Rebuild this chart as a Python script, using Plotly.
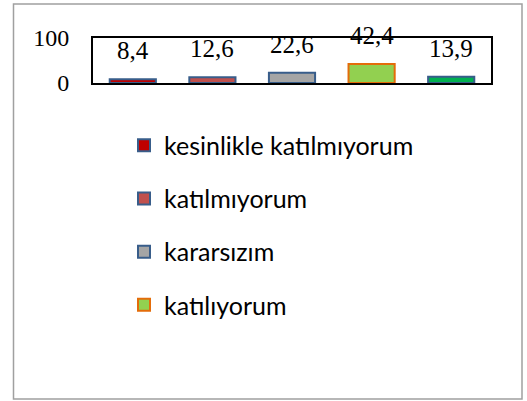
import plotly.graph_objects as go

categories = ["kesinlikle katılmıyorum", "katılmıyorum", "kararsızım", "katılıyorum", "tamamen katılıyorum"]
values = [8.4, 12.6, 22.6, 42.4, 13.9]
value_labels = ["8,4", "12,6", "22,6", "42,4", "13,9"]
fill_colors = ["#C00000", "#C0504D", "#A5A5A5", "#92D050", "#00B050"]
line_colors = ["#385D8A", "#385D8A", "#385D8A", "#E46C0A", "#385D8A"]
show_in_legend = [True, True, True, True, False]
y_ticks = [0, 100]

W, H = 527, 401
ML, MR, MT, MB = 93, 36, 38, 318
pw = W - ML - MR
ph = H - MT - MB

fig = go.Figure()
for i, (c, v) in enumerate(zip(categories, values)):
    fig.add_trace(go.Bar(
        x=[c], y=[v], name=c, width=0.58,
        marker=dict(color=fill_colors[i], line=dict(color=line_colors[i], width=2)),
        legendgroup=f"g{i}", showlegend=show_in_legend[i],
    ))

for c, v, t in zip(categories, values, value_labels):
    fig.add_annotation(x=c, y=v, text=t, showarrow=False, yanchor="bottom",
                       yshift=13, font=dict(family="Liberation Serif", size=25, color="black"))

def px2paper_x(px):
    return (px - ML) / pw

def px2paper_y(py):
    return (H - MB - py) / ph

fig.add_shape(type="rect", xref="paper", yref="paper",
              x0=px2paper_x(13.5), x1=px2paper_x(522), y0=px2paper_y(399), y1=px2paper_y(4),
              line=dict(color="#A0A0A0", width=1.5), layer="below")

fig.update_layout(
    width=W, height=H,
    margin=dict(l=ML, r=MR, t=MT, b=MB, autoexpand=False),
    paper_bgcolor="white", plot_bgcolor="white",
    barmode="overlay",
    showlegend=True,
    legend=dict(x=px2paper_x(124), y=px2paper_y(122.5), xanchor="left", yanchor="top",
                font=dict(family="Lato", size=25, color="black"), maxheight=400,
                tracegroupgap=17.7, itemwidth=30, bgcolor="rgba(0,0,0,0)"),
    xaxis=dict(showticklabels=False, ticks="", showgrid=False, showline=True, mirror=True,
               linecolor="black", linewidth=2, zeroline=False, fixedrange=True),
    yaxis=dict(range=[0, 100], tickvals=y_ticks, ticktext=[str(v) for v in y_ticks],
               showgrid=False, showline=True, mirror=True, linecolor="black", linewidth=2,
               zeroline=False, ticks="", ticklabelstandoff=17, fixedrange=True,
               tickfont=dict(family="Liberation Serif", size=24, color="black")),
)
fig.write_html("out.html", config={"displayModeBar": False},
               post_script="document.body.style.margin='0';")
